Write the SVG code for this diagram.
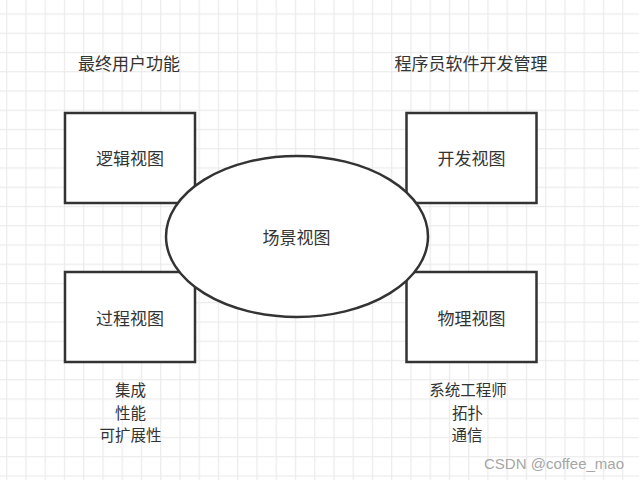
<svg xmlns="http://www.w3.org/2000/svg" width="639" height="480" viewBox="0 0 639 480">
<defs>
<pattern id="grid" x="6.1" y="13.4" width="19.25" height="19.25" patternUnits="userSpaceOnUse">
<path d="M0.6 0V19.25M0 0.6H19.25" stroke="#ebebeb" stroke-width="1.2" fill="none"/>
</pattern>
<style>
.box{fill:#fff;stroke:#333;stroke-width:2.5}
.t{font-family:"Microsoft YaHei","Noto Sans CJK SC",sans-serif;font-size:17px;fill:#333;text-anchor:middle}
.s{font-size:15.5px}
.wm{font-family:"Liberation Sans",Arial,sans-serif;font-size:15px;fill:#a6a6a6;text-anchor:end}
</style>
</defs>
<rect width="639" height="480" fill="#fff"/>
<rect width="639" height="480" fill="url(#grid)"/>
<g id="connectors"/>
<g id="logical">
<rect class="box" x="65" y="113" width="130" height="90"/>
<text class="t" x="130" y="165">逻辑视图</text>
</g>
<g id="process">
<rect class="box" x="65" y="272" width="130" height="90"/>
<text class="t" x="130" y="325">过程视图</text>
</g>
<g id="development">
<rect class="box" x="406.5" y="113" width="130" height="90"/>
<text class="t" x="471.5" y="165">开发视图</text>
</g>
<g id="physical">
<rect class="box" x="406.5" y="272" width="130" height="90"/>
<text class="t" x="471.5" y="325">物理视图</text>
</g>
<g id="scenario">
<ellipse class="box" cx="297" cy="236.5" rx="131" ry="80.5"/>
<text class="t" x="296.5" y="244">场景视图</text>
</g>
<g id="label-enduser">
<text class="t" x="129" y="70">最终用户功能</text>
</g>
<g id="label-programmer">
<text class="t" x="471" y="70">程序员软件开发管理</text>
</g>
<g id="label-process">
<text class="t s" x="130.5" y="396">集成</text>
<text class="t s" x="130.5" y="418.5">性能</text>
<text class="t s" x="130.5" y="441">可扩展性</text>
</g>
<g id="label-physical">
<text class="t s" x="468" y="396">系统工程师</text>
<text class="t s" x="467.5" y="418.5">拓扑</text>
<text class="t s" x="467" y="441">通信</text>
</g>
<text class="wm" x="624" y="468.5">CSDN @coffee_mao</text>
</svg>
